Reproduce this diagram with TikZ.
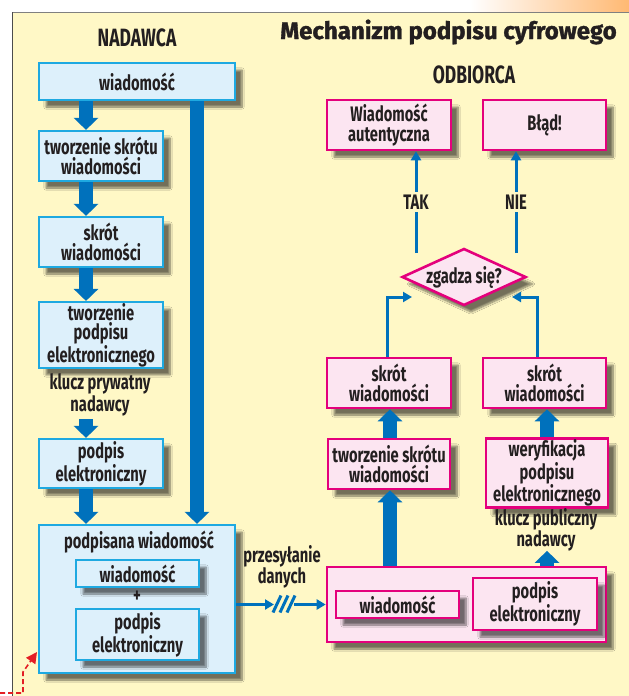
\documentclass[tikz,border=0pt]{standalone}
\usepackage{fontspec}
\setmainfont{Fira Sans}[FakeStretch=0.7]
\newfontfamily\titlefont{Fira Sans}[BoldFeatures={FakeBold=1.4}]
\usetikzlibrary{arrows.meta,positioning,shapes.geometric,shadows.blur}

\definecolor{paper}{HTML}{FFF8C6}
\definecolor{sendfill}{HTML}{DDF0FB}
\definecolor{sendline}{HTML}{1EA9E1}
\definecolor{recvfill}{HTML}{FCE5F1}
\definecolor{recvline}{HTML}{E4007C}
\definecolor{flow}{HTML}{0071BC}
\definecolor{ink}{HTML}{231F20}
\definecolor{marker}{HTML}{E31E24}

\begin{document}
\begin{tikzpicture}[
  x=1pt, y=-1pt,
  every node/.style={font=\fontsize{21}{19.5}\selectfont\bfseries,text=ink,align=center,inner sep=1pt},
  boxshadow/.style={blur shadow={shadow xshift=7pt,shadow yshift=-7pt,shadow blur steps=8,shadow opacity=55}},
  sendbox/.style={draw=sendline,fill=sendfill,line width=2.2pt,boxshadow},
  recvbox/.style={draw=recvline,fill=recvfill,line width=2.6pt,boxshadow},
  heading/.style={font=\fontsize{25}{25}\selectfont\bfseries},
  bigarrow/.style={draw=flow,line width=14pt,-{Triangle[length=12pt,width=24pt]}},
  thinarrow/.style={draw=flow,line width=3pt,-{Triangle[length=9pt,width=10pt]}}
]
  % background
  \useasboundingbox (0,0) rectangle (629,696);
  \fill[white] (0,0) rectangle (629,696);
  \shade[left color=white,right color=orange!55] (470,0) rectangle (629,11);
  \fill[paper] (12,12) rectangle (629,696);
  \draw[gray,line width=1pt] (12,12) -- (629,12);
  \draw[black!70,line width=1pt] (12,12) -- (12,696);

  % headings
  \node[font=\titlefont\fontsize{24}{24}\selectfont\bfseries] (title) at (448.5,32) {Mechanizm podpisu cyfrowego};
  \node[heading] (sender) at (137,38) {NADAWCA};
  \node[heading] (receiver) at (474,75) {ODBIORCA};

  % sender side
  \node[sendbox,minimum width=196pt,minimum height=37pt] (msg) at (137,81.5) {wiadomość};
  \node[sendbox,minimum width=124pt,minimum height=50pt] (hash) at (101,156) {tworzenie skrótu\\wiadomości};
  \node[sendbox,minimum width=124pt,minimum height=50pt] (digest) at (101,242) {skrót\\wiadomości};
  \node[sendbox,minimum width=124pt,minimum height=62pt] (signing) at (101,335) {tworzenie\\podpisu\\elektronicznego};
  \node (privkey) at (100,395) {klucz prywatny\\nadawcy};
  \node[sendbox,minimum width=124pt,minimum height=49pt] (sig) at (101,463.5) {podpis\\elektroniczny};
  \node[sendbox,minimum width=196pt,minimum height=148pt] (signed) at (137,599) {};
  \node (signedlbl) at (139,542) {podpisana wiadomość};
  \node[sendbox,minimum width=123pt,minimum height=27pt] (smsg) at (137.5,573.5) {wiadomość};
  \node (plus) at (137,597) {+};
  \node[sendbox,minimum width=123pt,minimum height=51pt] (ssig) at (137.5,634.5) {podpis\\elektroniczny};

  \coordinate (lx) at (86,0);
  \coordinate (bx) at (197,0);
  \draw[bigarrow] (msg.south -| lx) -- (hash.north -| lx);
  \draw[bigarrow] (hash.south -| lx) -- (digest.north -| lx);
  \draw[bigarrow] (digest.south -| lx) -- (signing.north -| lx);
  \draw[bigarrow] ([yshift=-2pt]privkey.south -| lx) -- (sig.north -| lx);
  \draw[bigarrow] (sig.south -| lx) -- (signed.north -| lx);
  \draw[bigarrow] (msg.south -| bx) -- (signed.north -| bx);

  % receiver side
  \node[recvbox,minimum width=124pt,minimum height=50pt] (authentic) at (389,125) {Wiadomość\\autentyczna};
  \node[recvbox,minimum width=123pt,minimum height=50pt] (failure) at (544.5,125) {Błąd!};
  \node[diamond,draw=recvline,fill=recvfill,line width=2.6pt,boxshadow,aspect=2.2,inner sep=0pt,
        minimum width=124pt,minimum height=57pt] (match) at (464,277) {zgadza się?};
  \node[recvbox,minimum width=124pt,minimum height=50pt] (rdigest) at (389,383) {skrót\\wiadomości};
  \node[recvbox,minimum width=123pt,minimum height=50pt] (vdigest) at (544.5,383) {skrót\\wiadomości};
  \node[recvbox,minimum width=122pt,minimum height=50pt] (rhash) at (389,464) {tworzenie skrótu\\wiadomości};
  \node[recvbox,minimum width=122pt,minimum height=68pt] (verify) at (547,473) {weryfikacja\\podpisu\\elektronicznego};
  \node (pubkey) at (546,530) {klucz publiczny\\nadawcy};
  \node[recvbox,minimum width=279pt,minimum height=75pt] (received) at (466.5,604.5) {};
  \node[recvbox,minimum width=123pt,minimum height=27pt] (rmsg) at (397.5,604.5) {wiadomość};
  \node[recvbox,minimum width=124pt,minimum height=52pt] (rsig) at (535,604) {podpis\\elektroniczny};

  \coordinate (rx) at (390,0);
  \coordinate (vx) at (547,0);
  \draw[bigarrow] (received.north -| rx) -- (rhash.south -| rx);
  \draw[bigarrow] (rhash.north -| rx) -- (rdigest.south -| rx);
  \draw[bigarrow] (received.north -| vx) -- ([yshift=2pt]pubkey.south -| vx);
  \draw[bigarrow] (verify.north -| vx) -- (vdigest.south -| vx);

  \coordinate (inL) at (412,297);
  \coordinate (inR) at (512,297);
  \coordinate (yes) at (416,253);
  \coordinate (no) at (516,253);
  \draw[thinarrow] (rdigest.north -| 387,0) |- (inL);
  \draw[thinarrow] (vdigest.north -| 537,0) |- (inR);
  \draw[thinarrow] (yes) -- node[fill=paper,inner sep=3pt] (yeslbl) {TAK} (yes |- authentic.south);
  \draw[thinarrow] (no) -- node[fill=paper,inner sep=3pt] (nolbl) {NIE} (no |- failure.south);

  % transmission
  \node (transfer) at (282,567) {przesyłanie\\danych};
  \coordinate (cutL) at (274,604.5);
  \coordinate (cutR) at (294,604.5);
  \draw[thinarrow] (signed.east |- received.west) -- (cutL);
  \draw[thinarrow] (cutR) -- (received.west);
  \foreach \s in {-7,0,7}
    \draw[flow,line width=3pt] ([xshift=\s pt-4pt,yshift=-8pt]$(cutL)!0.5!(cutR)$) -- ++(8,-17);

  % page marker
  \coordinate (mk) at (0,693);
  \draw[marker,dash pattern=on 5pt off 3pt,line width=1.6pt,-{Triangle[length=11pt,width=11pt]}]
    (mk) -- (23,693) -- (23,672) -- (37,652);
\end{tikzpicture}
\end{document}
